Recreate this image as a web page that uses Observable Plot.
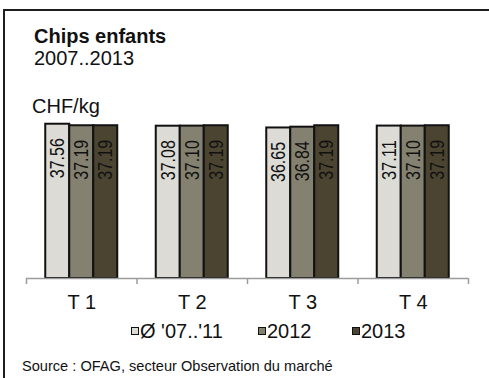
<!DOCTYPE html>
<html><head><meta charset="utf-8">
<script src="https://cdn.jsdelivr.net/npm/d3@7"></script>
<script src="https://cdn.jsdelivr.net/npm/@observablehq/plot@0.6"></script>
<style>
body{margin:0;background:#fff;font-family:"Liberation Sans",Arial,sans-serif;color:#111;}
#wrap{position:relative;width:489px;height:378px;overflow:hidden;background:#fff;}
#frame{position:absolute;left:3px;top:9px;width:600px;height:500px;border-left:2px solid #1e1e1e;border-top:2px solid #1e1e1e;}
.t{position:absolute;white-space:nowrap;line-height:20px;}
#title{left:34px;top:26px;font-size:20px;font-weight:bold;}
#sub{left:34px;top:48px;font-size:20px;}
#unit{left:32px;top:96px;font-size:20px;}
#chart{position:absolute;left:0;top:100px;}
.li{position:absolute;top:321px;display:flex;align-items:center;font-size:20px;line-height:20px;}
.sw{width:8px;height:8px;box-sizing:border-box;border:1.5px solid #111;margin-right:1px;}
#src{left:22px;top:359px;font-size:14.6px;line-height:15px;}
</style></head>
<body><div id="wrap">
<div id="frame"></div>
<div class="t" id="title">Chips enfants</div>
<div class="t" id="sub">2007..2013</div>
<div class="t" id="unit">CHF/kg</div>
<div id="chart"></div>
<div id="legend"></div>
<div class="t" id="src">Source : OFAG, secteur Observation du marché</div>
</div>
<script>
const quarters = ["T 1", "T 2", "T 3", "T 4"];
const seriesNames = ["Ø '07..'11", "2012", "2013"];
const avg0711 = [37.56, 37.08, 36.65, 37.11];
const y2012 = [37.19, 37.10, 36.84, 37.10];
const y2013 = [37.19, 37.19, 37.19, 37.19];
const colors = ["#dcdbd5", "#858170", "#4b4431"];
const legendX = [131, 258, 352];

const seriesValues = [avg0711, y2012, y2013];
const rows = seriesValues.map((vals, j) => vals.map((v, i) => ({q: i, s: j, v})));

const marks = [];
rows.forEach((data, j) => {
  marks.push(Plot.rectY(data, {
    x1: d => d.q, x2: d => d.q + 1, y: "v",
    fill: colors[j], stroke: "#111", strokeWidth: 2,
    insetLeft: 19.25 + 24 * j, insetRight: 19.25 + 24 * (2 - j)
  }));
});
rows.forEach((data, j) => {
  marks.push(Plot.text(data, {
    x: d => d.q + 0.5, y: "v", text: d => d.v.toFixed(2),
    rotate: -90, textAnchor: "end", lineAnchor: "middle",
    dx: 24 * (j - 1), dy: 14, fontSize: 21, fill: "#111"
  }));
});
marks.push(Plot.ruleY([0], {stroke: "#9c9c9c", strokeWidth: 1.5}));
marks.push(Plot.axisX(d3.range(quarters.length + 1), {
  tickSize: 6, tickFormat: () => "", stroke: "#9c9c9c", strokeWidth: 1.5
}));
marks.push(Plot.axisX(quarters.map((q, i) => i + 0.5), {
  tickSize: 0, tickPadding: 16, tickFormat: d => quarters[Math.floor(d)],
  fontSize: 20, fill: "#111"
}));

const svg = Plot.plot({
  width: 489, height: 220,
  marginLeft: 26, marginRight: 21, marginTop: 13.7, marginBottom: 42,
  x: {domain: [0, quarters.length]},
  y: {domain: [0, 40], axis: null},
  style: {fontFamily: "'Liberation Sans', Arial, sans-serif", background: "transparent", overflow: "visible"},
  marks
});
svg.querySelectorAll('text[transform*="rotate(-90)"]').forEach(t => {
  t.setAttribute("textLength", 40);
  t.setAttribute("lengthAdjust", "spacingAndGlyphs");
});
document.getElementById("chart").appendChild(svg);

const legend = document.getElementById("legend");
seriesNames.forEach((name, j) => {
  const item = document.createElement("div");
  item.className = "li";
  item.style.left = legendX[j] + "px";
  const sw = document.createElement("div");
  sw.className = "sw";
  sw.style.background = colors[j];
  const tx = document.createElement("span");
  tx.textContent = name;
  item.appendChild(sw);
  item.appendChild(tx);
  legend.appendChild(item);
});
</script>
</body></html>
